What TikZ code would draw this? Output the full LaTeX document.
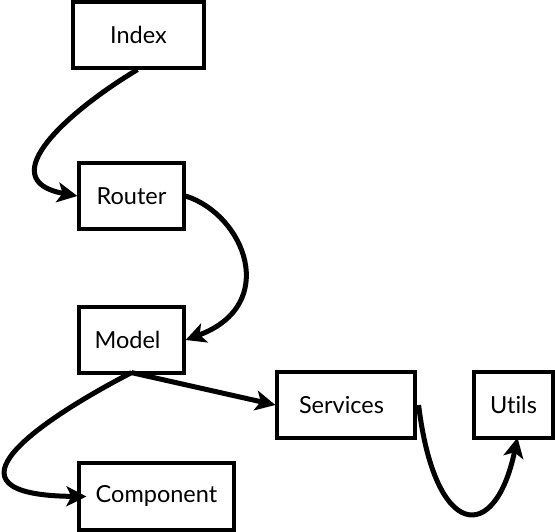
\documentclass[tikz,border=0pt]{standalone}
\usepackage{fontspec}
\setmainfont{Lato}[Ligatures=NoCommon]
\usetikzlibrary{arrows.meta}
\begin{document}
\begin{tikzpicture}[x=1pt,y=-1pt,
  box/.style={draw=black,line width=3.2pt,fill=white,inner sep=0pt,font=\fontsize{23.5}{27}\selectfont},
  link/.style={line width=5pt,-{Stealth[length=20pt,width=20pt,inset=5pt]}}]
\useasboundingbox (0,0) rectangle (555,532);
\node[box,minimum width=131pt,minimum height=66pt] (index) at (138.5,35) {Index};
\node[box,minimum width=105pt,minimum height=66pt] (router) at (131.5,196) {Router};
\node[box,minimum width=105pt,minimum height=66pt] (model) at (131.5,340) {\hspace*{-8pt}Model};
\node[box,minimum width=138pt,minimum height=66pt] (services) at (346,405) {\hspace*{-9pt}Services};
\node[box,minimum width=79pt,minimum height=66pt] (utils) at (513.5,405) {Ut{}ils};
\node[box,minimum width=155pt,minimum height=67pt] (component) at (156.5,496.5) {Component};
\coordinate (i0) at ([xshift=-1pt]index.south);
\coordinate (m0) at ([yshift=2pt]model.south);
\draw[link] (i0) .. controls (70,110) and (-10,180) .. (router.west);
\draw[link] (router.east) .. controls (245,215) and (280,305) .. (model.east);
\draw[link] (m0) -- (services.west);
\draw[link] (m0) .. controls (40,420) and (-70,495) .. ([xshift=9pt]component.west);
\draw[link] ([xshift=2pt]services.east) .. controls (435,540) and (495,545) .. ([xshift=4pt,yshift=2pt]utils.south);
\end{tikzpicture}
\end{document}
